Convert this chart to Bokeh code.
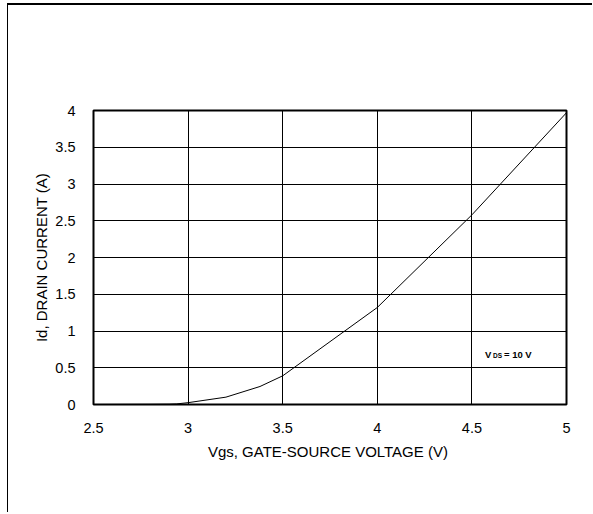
from bokeh.plotting import figure
from bokeh.models import Range1d, FixedTicker
from bokeh.core.properties import value
from bokeh.embed import file_html
from bokeh.resources import INLINE

# ---- data ----
vgs = [2.5, 2.8, 2.9, 2.94, 3.0, 3.2, 3.38, 3.5, 4.0, 4.5, 5.0]
id_a = [0.0, 0.002, 0.004, 0.008, 0.025, 0.1, 0.245, 0.39, 1.32, 2.58, 3.97]

x_ticks = [2.5, 3.0, 3.5, 4.0, 4.5, 5.0]
x_tick_labels = ["2.5", "3", "3.5", "4", "4.5", "5"]
y_ticks = [0, 0.5, 1.0, 1.5, 2.0, 2.5, 3.0, 3.5, 4.0]
y_tick_labels = ["0", "0.5", "1", "1.5", "2", "2.5", "3", "3.5", "4"]

x_title = "Vgs, GATE-SOURCE VOLTAGE  (V)"
y_title = "Id, DRAIN CURRENT (A)"
note_main = "V"
note_sub = "DS"
note_rest = "= 10 V"
note_x = [4.569]
note_y = [0.685]

FONT = "Liberation Sans"

p = figure(width=585, height=509, output_backend="svg", toolbar_location=None,
           x_range=Range1d(2.5, 5.0), y_range=Range1d(0, 4.0),
           min_border_left=85, min_border_right=27,
           min_border_top=105, min_border_bottom=110)
p.styles = {"border-top": "2px solid black", "border-left": "1px solid black",
            "margin-top": "3px", "margin-left": "7px"}

p.background_fill_color = "white"
p.border_fill_color = None
p.outline_line_color = "black"
p.outline_line_width = 2
p.outline_line_alpha = 1.0

p.line(vgs, id_a, line_color="black", line_width=1)

for ax in (p.xaxis[0], p.yaxis[0]):
    ax.axis_line_color = None
    ax.major_tick_line_color = None
    ax.minor_tick_line_color = None
    ax.major_label_text_font = FONT
    ax.major_label_text_font_size = "14.5px"
    ax.major_label_text_color = "black"
    ax.axis_label_text_font = FONT
    ax.axis_label_text_font_size = "15px"
    ax.axis_label_text_font_style = "normal"
    ax.axis_label_text_color = "black"

p.xaxis[0].ticker = FixedTicker(ticks=x_ticks)
p.xaxis[0].major_label_overrides = dict(zip(x_ticks, x_tick_labels))
p.xaxis[0].axis_label = x_title
p.xaxis[0].major_label_standoff = 12
p.xaxis[0].axis_label_standoff = 7

p.yaxis[0].ticker = FixedTicker(ticks=y_ticks)
p.yaxis[0].major_label_overrides = dict(zip(y_ticks, y_tick_labels))
p.yaxis[0].axis_label = y_title
p.yaxis[0].major_label_standoff = 12
p.yaxis[0].axis_label_standoff = 2

p.xgrid.grid_line_color = "black"
p.ygrid.grid_line_color = "black"
p.xgrid.grid_line_width = 1
p.ygrid.grid_line_width = 1

p.text(x=note_x, y=note_y, text=[note_main], text_font=value(FONT),
       text_font_size="9.5px", text_font_style="bold", text_color="black",
       text_align="left", text_baseline="middle")
p.text(x=note_x, y=note_y, text=[note_sub], text_font=value(FONT),
       text_font_size="6.5px", text_font_style="bold", text_color="black",
       text_align="left", text_baseline="middle", x_offset=8, y_offset=1.5)
p.text(x=note_x, y=note_y, text=[note_rest], text_font=value(FONT),
       text_font_size="9.5px", text_font_style="bold", text_color="black",
       text_align="left", text_baseline="middle", x_offset=19)

open("out.html", "w").write(file_html(p, INLINE))
